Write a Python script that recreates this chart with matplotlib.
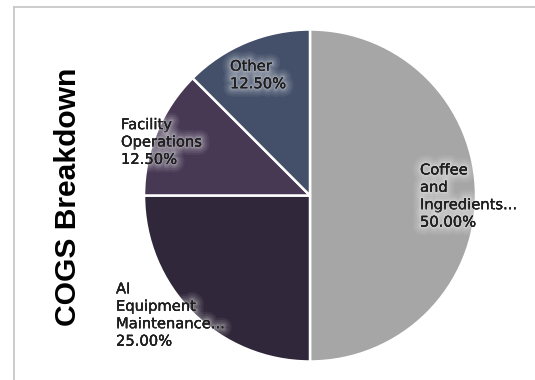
import matplotlib
matplotlib.use("Agg")
import matplotlib.pyplot as plt
import matplotlib.patheffects as pe

# COGS split by category (percent of total)
categories = ["Coffee\nand\nIngredients...", "AI\nEquipment\nMaintenance...",
              "Facility\nOperations", "Other"]
values = [50.0, 25.0, 12.5, 12.5]
colors = ["#a6a6a6", "#30283a", "#473853", "#44506a"]

# where each label block sits (pixels from top-left)
label_pos = [(420, 196), (116, 315), (121, 142), (230, 75)]

W, H = 535, 380
fig = plt.figure(figsize=(W / 100, H / 100), dpi=100)
ax = fig.add_axes([0, 0, 1, 1])

ax.pie(values, colors=colors, startangle=90, counterclock=False,
       center=(310, H - 195.5), radius=166,
       wedgeprops=dict(edgecolor="white", linewidth=1.8))

ax.set_xlim(0, W)
ax.set_ylim(0, H)
ax.set_aspect("auto")
ax.axis("off")

# soft white haze behind the labels
glow = [pe.withStroke(linewidth=12, foreground="white", alpha=0.06),
        pe.withStroke(linewidth=9, foreground="white", alpha=0.08),
        pe.withStroke(linewidth=6, foreground="white", alpha=0.1),
        pe.withStroke(linewidth=3.5, foreground="white", alpha=0.14),
        pe.withStroke(linewidth=1.5, foreground="white", alpha=0.2),
        pe.Normal()]

total = sum(values)
for name, v, (x, y) in zip(categories, values, label_pos):
    ax.text(x, H - y, f"{name}\n{v / total * 100:.2f}%", ha="left", va="center",
            fontsize=10.6, family="DejaVu Sans", color="#1f1f1f",
            linespacing=1.2, path_effects=glow)

ax.text(68, H - 197, "COGS Breakdown", rotation=90, ha="center", va="center",
        fontsize=21.6, fontweight="bold", family="Liberation Sans", color="black")

# chart border (top and left edges visible)
ax.plot([14, W + 5], [H - 7, H - 7], color="#c4c4c4", lw=1.2, clip_on=False)
ax.plot([14, 14], [H - 7, -5], color="#c4c4c4", lw=1.2, clip_on=False)

fig.savefig("out.png", dpi=100, facecolor="white")
